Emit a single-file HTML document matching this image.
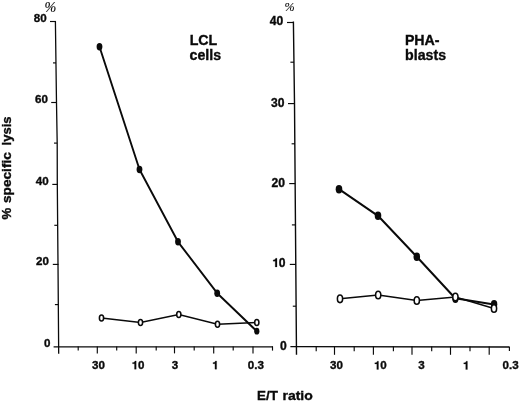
<!DOCTYPE html>
<html><head><meta charset="utf-8">
<style>
html,body{margin:0;padding:0;background:#fff;}
body{width:520px;height:402px;overflow:hidden;position:relative;font-family:"Liberation Sans",sans-serif;}
svg{position:absolute;left:0;top:0;filter:grayscale(1) blur(0.3px);}
text{font-family:"Liberation Sans",sans-serif;font-weight:bold;fill:#0a0a0a;stroke:#0a0a0a;stroke-width:0.35px;}
.t{font-size:11.6px;}
.r{font-size:12.1px;}
.h{font-size:14.2px;}
.pc{font-family:"Liberation Serif",serif;font-style:italic;font-weight:normal;font-size:13.5px;stroke-width:0.15px;}
</style></head><body>
<svg width="520" height="402" viewBox="0 0 520 402">
<rect width="520" height="402" fill="#fff"/>
<g stroke="#0a0a0a" fill="none" stroke-linecap="butt">
<!-- left chart axes -->
<path d="M55.4 21.2 L56.5 103 L57.2 143 L57.3 184 L58 264 L58.7 353.7" stroke-width="1.3" stroke-linejoin="round"/>
<path d="M53.6 346.9 L273 346.8" stroke-width="1.3"/>
<!-- left y ticks -->
<g stroke-width="1.15">
<path d="M50 21.5H56"/><path d="M51.2 102.5H57"/><path d="M52.3 184.4H57.8"/><path d="M52.8 264.4H58.5"/>
<path d="M53 62.9H56"/><path d="M54 143.1H57"/><path d="M54.3 225.3H57.6"/><path d="M54.9 304.6H58.2"/>
</g>
<!-- left x ticks -->
<g stroke-width="1.15">
<path d="M97.3 346.5V353.4"/><path d="M136.2 346.5V353.4"/><path d="M174.5 346.5V353.4"/><path d="M213.7 346.5V353.4"/><path d="M253 346.5V353.6"/>
<path d="M78.2 346.5V350.6"/><path d="M116.7 346.5V350.6"/><path d="M156.2 346.5V350.6"/><path d="M194.2 346.5V350.6"/><path d="M233.2 346.5V350.6"/><path d="M272.5 346.5V350.6"/>
</g>
<!-- right chart axes -->
<path d="M293.4 21.6 L294.5 103 L296.5 354.8" stroke-width="1.4"/>
<path d="M290.4 346.6 L510 347" stroke-width="1.3"/>
<g stroke-width="1.15">
<path d="M287 22.5H293.5"/><path d="M288 103.6H294.5"/><path d="M289.2 183.6H295.3"/><path d="M289.8 264.4H296"/>
<path d="M290.4 62.2H294"/><path d="M291.6 143.8H295"/><path d="M291.9 224.9H295.5"/><path d="M292.8 306.2H296"/>
</g>
<g stroke-width="1.15">
<path d="M334.5 346.6V354.8"/><path d="M373.4 346.6V354.8"/><path d="M412 346.6V354.8"/><path d="M450.5 346.6V354.8"/><path d="M489.2 346.6V354.8"/>
<path d="M316.2 346.6V351.2"/><path d="M354.2 346.6V351.2"/><path d="M393.4 346.6V351.2"/><path d="M431.7 346.6V351.2"/><path d="M470 346.6V351.2"/><path d="M509.4 346.6V351"/>
</g>
<!-- left curves -->
<path d="M99.5 46.8 L139.5 169.5 L178 241.8 L217.2 293.2 L256.8 331.2" stroke-width="1.9" stroke-linejoin="round"/>
<path d="M101.5 318 L140.5 322.5 L178.8 314.5 L217.5 324.2 L256.8 322.5" stroke-width="1.5"/>
<!-- right curves -->
<path d="M339 189.2 L378 215.8 L416.8 256.8 L455.2 298.2 L494 304.6" stroke-width="2" stroke-linejoin="round"/>
<path d="M340 298.8 L378.2 295 L416.8 300.5 L455.4 297 L494 308.5" stroke-width="1.5"/>
</g>
<!-- filled points -->
<g fill="#0a0a0a">
<ellipse cx="99.5" cy="46.8" rx="2.9" ry="3.7"/>
<ellipse cx="139.5" cy="169.5" rx="2.9" ry="3.7"/>
<ellipse cx="178" cy="241.8" rx="2.9" ry="3.7"/>
<ellipse cx="217.2" cy="293.2" rx="2.9" ry="3.7"/>
<ellipse cx="256.8" cy="331.2" rx="2.6" ry="3.4"/>
<ellipse cx="339" cy="189.2" rx="3.3" ry="4.2"/>
<ellipse cx="378" cy="215.8" rx="3.3" ry="4.2"/>
<ellipse cx="416.8" cy="256.8" rx="3.3" ry="4.2"/>
<ellipse cx="455.4" cy="298.8" rx="3.1" ry="4.2"/>
<ellipse cx="494.1" cy="304.2" rx="3.2" ry="4.2"/>
</g>
<!-- open points -->
<g fill="#fff" stroke="#0a0a0a" stroke-width="1.55">
<ellipse cx="101.5" cy="318" rx="2.1" ry="3"/>
<ellipse cx="140.5" cy="322.5" rx="2.1" ry="3"/>
<ellipse cx="178.8" cy="314.5" rx="2.1" ry="3"/>
<ellipse cx="217.5" cy="324.2" rx="2.1" ry="3"/>
<ellipse cx="256.8" cy="322.5" rx="2.1" ry="3"/>
<ellipse cx="340" cy="298.8" rx="2.6" ry="3.8"/>
<ellipse cx="378.2" cy="295" rx="2.6" ry="3.8"/>
<ellipse cx="416.8" cy="300.5" rx="2.6" ry="3.8"/>
<ellipse cx="455.4" cy="297" rx="2.6" ry="3.8"/>
<ellipse cx="494" cy="308.5" rx="2.6" ry="3.8"/>
</g>
<!-- labels -->
<text class="t" x="46.6" y="21.8" text-anchor="end">80</text>
<text class="t" x="47.9" y="103.3" text-anchor="end">60</text>
<text class="t" x="48.6" y="184.6" text-anchor="end">40</text>
<text class="t" x="49" y="265" text-anchor="end">20</text>
<text class="t" x="50.5" y="347.4" text-anchor="end">0</text>
<text class="t" x="98.5" y="369.2" text-anchor="middle">30</text>
<path d="M254 0 L254 472 L84 472 L84 572 C190 574 272 606 292 712 L402 712 L402 0 Z" transform="translate(131.55 369.2) scale(0.01160 -0.01160)" fill="#0a0a0a" stroke="#0a0a0a" stroke-width="18"/><text class="t" x="138" y="369.2">0</text>
<text class="t" x="175" y="369.2" text-anchor="middle">3</text>
<path d="M254 0 L254 472 L84 472 L84 572 C190 574 272 606 292 712 L402 712 L402 0 Z" transform="translate(211.98 369.2) scale(0.01160 -0.01160)" fill="#0a0a0a" stroke="#0a0a0a" stroke-width="18"/>
<text class="t" x="247.8" y="369.2">0.3</text>
<text class="t r" x="283.3" y="25" text-anchor="end">40</text>
<text class="t r" x="284.4" y="106.7" text-anchor="end">30</text>
<text class="t r" x="284.9" y="186.8" text-anchor="end">20</text>
<path d="M254 0 L254 472 L84 472 L84 572 C190 574 272 606 292 712 L402 712 L402 0 Z" transform="translate(272.15 266.9) scale(0.01210 -0.01210)" fill="#0a0a0a" stroke="#0a0a0a" stroke-width="18"/><text class="t r" x="278.87" y="266.9">0</text>
<text class="t r" x="286.8" y="349.6" text-anchor="end">0</text>
<text class="t" x="336.5" y="369.4" text-anchor="middle">30</text>
<path d="M254 0 L254 472 L84 472 L84 572 C190 574 272 606 292 712 L402 712 L402 0 Z" transform="translate(373.85 369.4) scale(0.01160 -0.01160)" fill="#0a0a0a" stroke="#0a0a0a" stroke-width="18"/><text class="t" x="380.3" y="369.4">0</text>
<text class="t" x="421.6" y="369.3" text-anchor="middle">3</text>
<path d="M254 0 L254 472 L84 472 L84 572 C190 574 272 606 292 712 L402 712 L402 0 Z" transform="translate(462.78 369.5) scale(0.01160 -0.01160)" fill="#0a0a0a" stroke="#0a0a0a" stroke-width="18"/>
<text class="t" x="510.6" y="369.3" text-anchor="middle">0.3</text>
<text class="h" x="189.7" y="45">LCL</text>
<text class="h" x="189.6" y="60.3">cells</text>
<text class="h" x="404.9" y="44.9">PHA-</text>
<text class="h" x="405.1" y="60.1">blasts</text>
<text class="h" x="257" y="400.2" style="font-size:13.4px">E/T</text>
<text class="h" x="282.5" y="400.1" style="font-size:13.1px" textLength="30.3" lengthAdjust="spacingAndGlyphs">ratio</text>
<g style="font-size:13.1px">
<text class="h" style="font-size:13.1px" transform="translate(10.9,219.6) rotate(-90)">%</text>
<text class="h" style="font-size:13.1px" transform="translate(10.9,203.1) rotate(-90)" textLength="51" lengthAdjust="spacingAndGlyphs">specific</text>
<text class="h" style="font-size:13.1px" transform="translate(10.9,145.4) rotate(-90)" textLength="28.9" lengthAdjust="spacingAndGlyphs">lysis</text>
</g>
<text class="pc" x="44.5" y="12" style="font-size:14.2px">%</text>
<text class="pc" x="284.4" y="10.9" style="font-size:12.2px">%</text>
</svg>
</body></html>
